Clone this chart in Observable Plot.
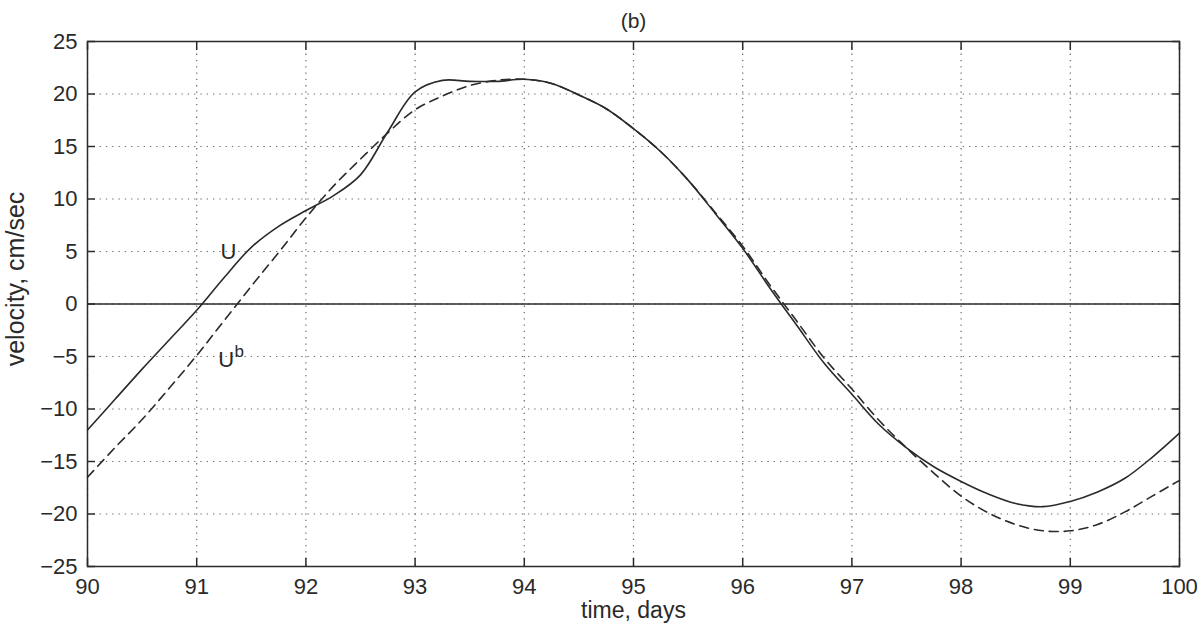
<!DOCTYPE html>
<html>
<head>
<meta charset="utf-8">
<script src="https://cdn.jsdelivr.net/npm/d3@7"></script>
<script src="https://cdn.jsdelivr.net/npm/@observablehq/plot@0.6"></script>
<style>
  html, body { margin: 0; padding: 0; background: #fff; }
  #chart svg { display: block; }
</style>
</head>
<body>
<div id="chart"></div>
<script>
// Time axis, days (sampled every quarter day)
const days = [
  90.00, 90.25, 90.50, 90.75, 91.00, 91.25, 91.50, 91.75,
  92.00, 92.25, 92.50, 92.75, 93.00, 93.25, 93.50, 93.75,
  94.00, 94.25, 94.50, 94.75, 95.00, 95.25, 95.50, 95.75,
  96.00, 96.25, 96.50, 96.75, 97.00, 97.25, 97.50, 97.75,
  98.00, 98.25, 98.50, 98.75, 99.00, 99.25, 99.50, 99.75,
  100.00
];

// U, velocity in cm/sec (solid)
const uVel = [
  -12.0, -9.1, -6.2, -3.4, -0.6, 2.5, 5.4, 7.4,
  8.9, 10.3, 12.3, 16.4, 20.2, 21.3, 21.2, 21.2,
  21.4, 21.0, 19.9, 18.6, 16.7, 14.5, 11.8, 8.6,
  5.3, 1.5, -2.1, -5.7, -8.6, -11.5, -13.7, -15.5,
  -16.9, -18.1, -19.0, -19.3, -18.8, -17.9, -16.6, -14.6,
  -12.3
];

// U^b, velocity in cm/sec (dashed)
const ubVel = [
  -16.5, -13.7, -11.0, -8.0, -4.9, -1.6, 1.7, 4.9,
  8.2, 11.2, 13.8, 16.3, 18.5, 19.8, 20.8, 21.3,
  21.4, 21.0, 19.9, 18.6, 16.7, 14.5, 11.8, 8.7,
  5.5, 1.8, -1.7, -5.2, -8.1, -11.1, -13.7, -16.1,
  -18.3, -19.9, -21.0, -21.6, -21.6, -21.0, -19.8, -18.3,
  -16.8
];

// Tick values
const xTicks = [90, 91, 92, 93, 94, 95, 96, 97, 98, 99, 100];
const yTicks = [-25, -20, -15, -10, -5, 0, 5, 10, 15, 20, 25];

// Curve labels
const curveLabels = [
  { day: 91.29, v: 4.95, text: "U", sup: "" },
  { day: 91.27, v: -5.33, text: "U", sup: "b" }
];

const rows = days.map((d, i) => ({ day: d, u: uVel[i], ub: ubVel[i] }));

const ink = "#2a2a2a";
const font = "'Liberation Sans', Arial, Helvetica, sans-serif";

const chart = Plot.plot({
  width: 1204,
  height: 624,
  marginLeft: 87,
  marginRight: 25,
  marginTop: 41,
  marginBottom: 58,
  style: { fontFamily: font, fontSize: "22px", color: ink, background: "#fff" },
  x: { domain: [90, 100] },
  y: { domain: [-25, 25] },
  marks: [
    // dotted grid
    Plot.gridX(xTicks, { stroke: "#444", strokeOpacity: 0.8, strokeWidth: 1.2, strokeDasharray: "1.3,5" }),
    Plot.gridY(yTicks, { stroke: "#444", strokeOpacity: 0.8, strokeWidth: 1.2, strokeDasharray: "1.3,5" }),
    // zero line
    Plot.ruleY([0], { stroke: ink, strokeWidth: 1.4 }),
    // axes with inward ticks on all four sides
    Plot.axisX(xTicks, { anchor: "bottom", tickSize: -8, tickPadding: 20, label: null, fontSize: 22, strokeWidth: 1.5 }),
    Plot.axisX(xTicks, { anchor: "top", tickSize: -8, tickFormat: () => "", label: null, strokeWidth: 1.5 }),
    Plot.axisY(yTicks, { anchor: "left", tickSize: -8, tickPadding: 18, label: null, fontSize: 22, strokeWidth: 1.5 }),
    Plot.axisY(yTicks, { anchor: "right", tickSize: -8, tickFormat: () => "", label: null, strokeWidth: 1.5 }),
    // data
    Plot.line(rows, { x: "day", y: "ub", curve: "catmull-rom", stroke: ink, strokeWidth: 1.6, strokeDasharray: "9,6" }),
    Plot.line(rows, { x: "day", y: "u", curve: "catmull-rom", stroke: ink, strokeWidth: 1.6 }),
    // curve labels
    Plot.text(curveLabels, { x: "day", y: "v", text: "text", fontSize: 22, fill: ink }),
    Plot.text(curveLabels, { x: "day", y: "v", text: "sup", fontSize: 17, dx: 13, dy: -8, fill: ink }),
    // frame
    Plot.frame({ stroke: ink, strokeWidth: 1.5 }),
    // title and axis labels
    Plot.text(["(b)"], { frameAnchor: "top", dy: -20, lineAnchor: "middle", textAnchor: "middle", fontSize: 21, fill: ink }),
    Plot.text(["time, days"], { frameAnchor: "bottom", dy: 44, lineAnchor: "middle", textAnchor: "middle", fontSize: 23, fill: ink }),
    Plot.text(["velocity, cm/sec"], { frameAnchor: "left", dx: -72, dy: -25, rotate: -90, lineAnchor: "middle", textAnchor: "middle", fontSize: 25, fill: ink })
  ]
});

document.getElementById("chart").append(chart);
</script>
</body>
</html>
